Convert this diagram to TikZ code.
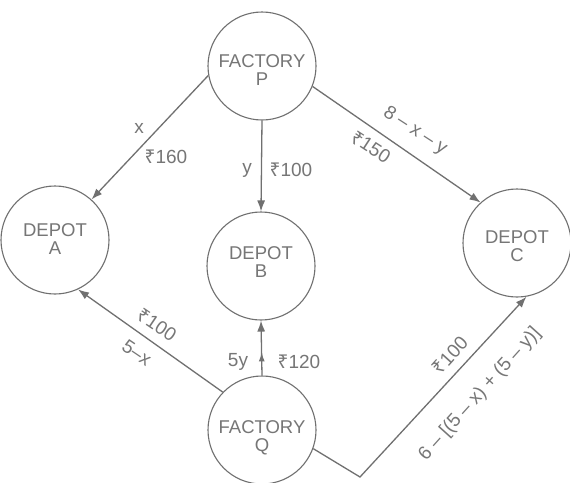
\documentclass[tikz,border=0pt]{standalone}
\usepackage{fontspec}
\setmainfont{Liberation Sans}
\newfontfamily\rupeefont{Noto Sans}
\usetikzlibrary{arrows.meta,decorations.markings}
\definecolor{ink}{RGB}{112,112,112}
\definecolor{txt}{RGB}{118,118,118}
\newcommand{\rs}{{\rupeefont ₹}}
\newcommand{\twoline}[3]{\raisebox{#1}[0pt][0pt]{\begin{tabular}{@{}c@{}}#2\\[-2pt]#3\end{tabular}}}
\tikzset{
  place/.style={circle,draw=ink,line width=1.1pt,minimum size=108pt,inner sep=0pt,text=txt,font=\fontsize{18.5}{20}\selectfont},
  flow/.style={draw=ink,line width=1.3pt,-{Latex[length=11pt,width=8pt]}},
  lbl/.style={text=txt,font=\fontsize{19}{21}\selectfont,inner sep=1pt},
  midtip/.style={postaction={decorate},decoration={markings,mark=at position 0.42 with {\arrow{Latex[length=9pt,width=6pt]}}}}
}
\begin{document}
\begin{tikzpicture}[x=1pt,y=-1pt]
\useasboundingbox[fill=white] (0,0) rectangle (570,482);
\node[place] (P) at (262,66) {\twoline{-11pt}{FACTORY}{P}};
\node[place] (A) at (55,240) {\twoline{-6pt}{DEPOT}{A}};
\node[place] (B) at (261,266) {\twoline{-3pt}{DEPOT}{B}};
\node[place] (C) at (517,243) {\twoline{-10pt}{DEPOT}{C}};
\node[place] (Q) at (262,430) {\twoline{-13pt}{FACTORY}{Q}};
\coordinate (k) at (360,477);
\draw[flow] (P.190) -- (A.48);
\draw[flow] (P.south) -- (B.north);
\draw[flow] (P.-22) -- (C.132);
\draw[flow] (Q.136) -- (A.-65);
\draw[flow,midtip] (Q.north) -- (B.south);
\draw[flow] (Q.-20) -- (k) -- (C.-80);
\node[lbl] (lx) at (139,128) {x};
\node[lbl] (l160) at (166,157) {\rs160};
\node[lbl] (ly) at (247,170) {y};
\node[lbl] (lpb) at (291,170) {\rs100};
\node[lbl,rotate=-33] (l8) at (415,131) {8 – x – y};
\node[lbl,rotate=-33] (l150) at (371,147) {\rs150};
\node[lbl,rotate=-34] (lqa) at (157,325) {\rs100};
\node[lbl,rotate=-34] (l5x) at (137,353) {5–x};
\node[lbl] (l5y) at (238,362) {5y};
\node[lbl] (l120) at (299,362) {\rs120};
\node[lbl,rotate=48] (lqc) at (450,355) {\rs100};
\node[lbl,rotate=48] (l6) at (480,394) {6 – [(5 – x) + (5 – y)]};
\end{tikzpicture}
\end{document}
